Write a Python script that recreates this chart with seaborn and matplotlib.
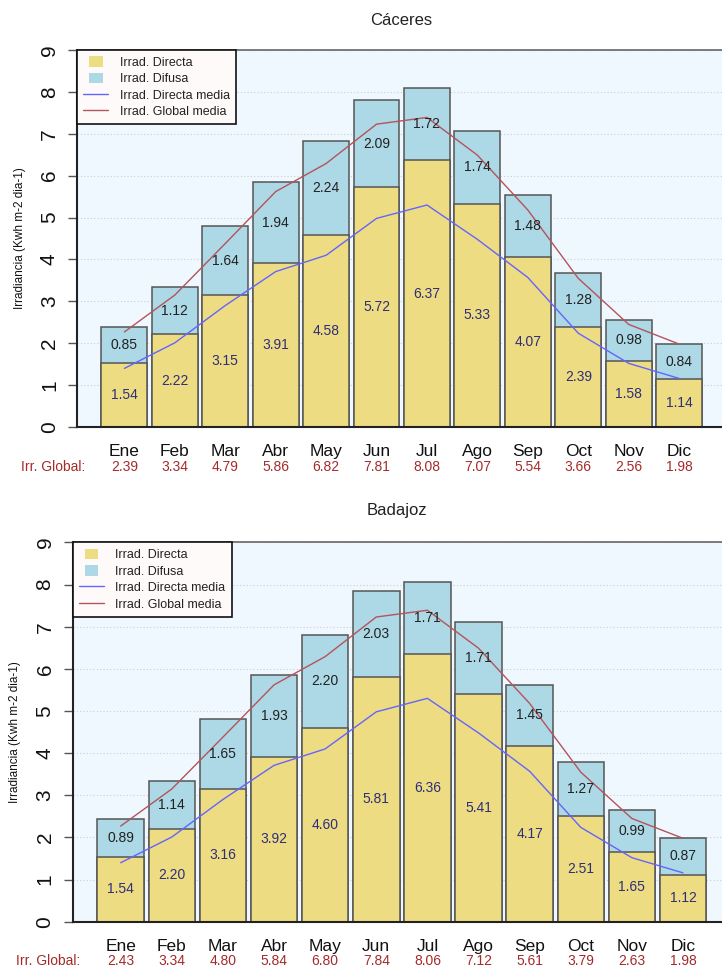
import numpy as np
import pandas as pd
import seaborn as sns
import matplotlib.pyplot as plt
import matplotlib.transforms as mtransforms
from matplotlib.patches import Patch, Rectangle
from matplotlib.lines import Line2D
from matplotlib.legend_handler import HandlerPatch

# Datos mensuales (kWh m-2 dia-1)
meses = ['Ene', 'Feb', 'Mar', 'Abr', 'May', 'Jun', 'Jul', 'Ago', 'Sep', 'Oct', 'Nov', 'Dic']

cac_directa = [1.54, 2.22, 3.15, 3.91, 4.58, 5.72, 6.37, 5.33, 4.07, 2.39, 1.58, 1.14]
cac_difusa = [0.85, 1.12, 1.64, 1.94, 2.24, 2.09, 1.72, 1.74, 1.48, 1.28, 0.98, 0.84]
cac_global = [2.39, 3.34, 4.79, 5.86, 6.82, 7.81, 8.08, 7.07, 5.54, 3.66, 2.56, 1.98]

bad_directa = [1.54, 2.20, 3.16, 3.92, 4.60, 5.81, 6.36, 5.41, 4.17, 2.51, 1.65, 1.12]
bad_difusa = [0.89, 1.14, 1.65, 1.93, 2.20, 2.03, 1.71, 1.71, 1.45, 1.27, 0.99, 0.87]
bad_global = [2.43, 3.34, 4.80, 5.84, 6.80, 7.84, 8.06, 7.12, 5.61, 3.79, 2.63, 1.98]

# medias de referencia (lineas)
media_directa = [1.40, 2.01, 2.90, 3.71, 4.10, 4.98, 5.30, 4.48, 3.57, 2.24, 1.52, 1.16]
media_global = [2.27, 3.15, 4.38, 5.62, 6.29, 7.23, 7.39, 6.49, 5.18, 3.55, 2.45, 1.98]

sns.set_style('white')
plt.rcParams['font.family'] = ['Liberation Sans', 'DejaVu Sans']

AMARILLO = '#EEDC82'
AZUL = '#ADD8E6'
FONDO = '#F0F8FF'
C_DIRECTA = '#6464ff'
C_GLOBAL = '#b5535b'
C_TXT_DIR = '#2e2e7a'
C_IRR = '#a52a2a'

fig = plt.figure(figsize=(7.22, 9.67), dpi=100)


def cuadrado(legend, orig_handle, xdescent, ydescent, width, height, fontsize):
    w = 0.55 * width
    return Rectangle((-xdescent + (width - w) / 2, -ydescent), w, height)


def panel(rect, titulo, directa, difusa, glob, y_tit, y_mes, y_glob, x_irr):
    ax = fig.add_axes(rect)
    ax.set_facecolor(FONDO)
    df = pd.DataFrame({'mes': meses, 'directa': directa,
                       'total': np.add(directa, difusa)})
    for col, color in [('total', AZUL), ('directa', AMARILLO)]:
        sns.barplot(data=df, x='mes', y=col, color=color, saturation=1,
                    width=1 / 1.1, edgecolor='#555555', linewidth=1.1,
                    errorbar=None, ax=ax, zorder=2)
    sns.lineplot(x=np.arange(12), y=media_directa, color=C_DIRECTA, lw=1,
                 ax=ax, zorder=3)
    sns.lineplot(x=np.arange(12), y=media_global, color=C_GLOBAL, lw=1,
                 ax=ax, zorder=3)

    for i in range(12):
        d, f = directa[i], difusa[i]
        ax.text(i, d / 2, f'{d:.2f}', ha='center', va='center',
                color=C_TXT_DIR, fontsize=10, zorder=4)
        ax.text(i, d + f / 2, f'{f:.2f}', ha='center', va='center',
                color='#222222', fontsize=10, zorder=4)

    ax.set_xlim(-0.94, 11.93)
    ax.set_ylim(0, 9)
    ax.set_yticks(range(10))
    ax.set_yticklabels([str(v) for v in range(10)], rotation=90, va='center',
                       fontsize=15, color='#111111')
    ax.tick_params(axis='y', left=True, length=6.5, width=1, color='#555555',
                   pad=6.5)
    ax.set_xticks([])
    ax.set_xlabel('')
    ax.set_ylabel('Irradiancia (Kwh m-2 dia-1)', fontsize=8.5, va='center',
                  color='#111111')
    ax.yaxis.set_label_coords(-0.088, 0.5)
    ax.yaxis.grid(True, linestyle=(0, (1, 2)), color='#cccccc', lw=0.8)
    ax.set_axisbelow(True)
    for s in ['left', 'bottom']:
        ax.spines[s].set_color('#222222')
        ax.spines[s].set_linewidth(1.5)
    ax.spines['top'].set_color('#666666')
    ax.spines['top'].set_linewidth(1.2)
    ax.spines['right'].set_visible(False)

    # etiquetas inferiores
    tr = mtransforms.blended_transform_factory(ax.transData, fig.transFigure)
    for i in range(12):
        ax.text(i, y_mes, meses[i], transform=tr, ha='center', va='center',
                fontsize=12.5, color='#111111')
        ax.text(i, y_glob, f'{glob[i]:.2f}', transform=tr, ha='center',
                va='center', fontsize=10, color=C_IRR)
    fig.text(x_irr, y_glob, 'Irr. Global:', ha='right', va='center',
             fontsize=10, color=C_IRR)
    fig.text(rect[0] + 0.5 * 0.8989, y_tit, titulo, ha='center', va='center',
             fontsize=12, color='#222222')

    handles = [Patch(facecolor=AMARILLO, edgecolor='none'),
               Patch(facecolor=AZUL, edgecolor='none'),
               Line2D([], [], color=C_DIRECTA, lw=1),
               Line2D([], [], color=C_GLOBAL, lw=1)]
    labels = ['Irrad. Directa', 'Irrad. Difusa', 'Irrad. Directa media',
              'Irrad. Global media']
    leg = ax.legend(handles, labels, loc='upper left', fontsize=9,
                    frameon=True, fancybox=False, borderaxespad=0,
                    labelspacing=0.32, handlelength=2.0, handleheight=0.9,
                    handletextpad=0.9, borderpad=0.5,
                    handler_map={Patch: HandlerPatch(patch_func=cuadrado)})
    for t in leg.get_texts():
        t.set_color('#222222')
    leg.get_frame().set_edgecolor('#111111')
    leg.get_frame().set_facecolor('#FFFAFA')
    leg.get_frame().set_alpha(1)
    leg.get_frame().set_linewidth(1.2)
    leg.set_zorder(5)
    return ax


panel([0.10665, 0.5584, 0.8989, 0.3899], 'Cáceres',
      cac_directa, cac_difusa, cac_global, 0.9793, 0.5336, 0.5171, 0.118)
panel([0.1006, 0.0468, 0.9112, 0.3923], 'Badajoz',
      bad_directa, bad_difusa, bad_global, 0.4716, 0.0207, 0.0062, 0.111)

fig.savefig('out.png', dpi=100)
